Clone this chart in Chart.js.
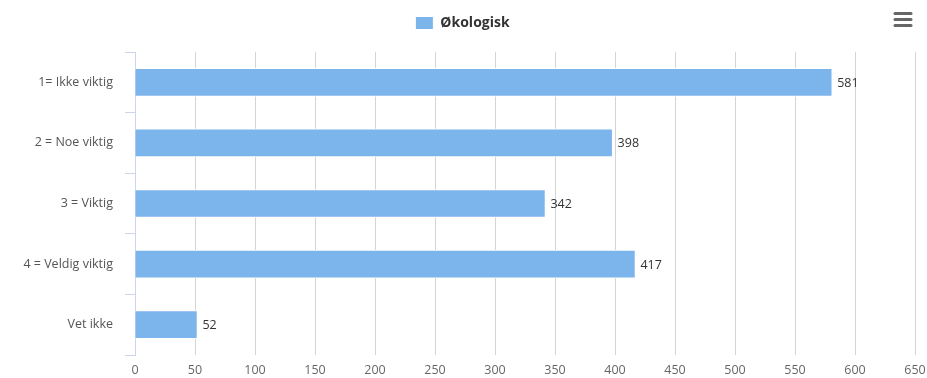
<!DOCTYPE html>
<html>
<head>
<meta charset="utf-8">
<script src="https://cdn.jsdelivr.net/npm/chart.js@4/dist/chart.umd.min.js"></script>
<style>
  html, body { margin: 0; padding: 0; background: #fff; }
  #wrap { width: 927px; height: 378px; }
</style>
</head>
<body>
<div id="wrap"><canvas id="myChart" width="927" height="378"></canvas></div>
<script>
// kategorier (y-akse)
var categories = ['1= Ikke viktig', '2 = Noe viktig', '3 = Viktig', '4 = Veldig viktig', 'Vet ikke']
// verdier
var values = [581, 398, 342, 417, 52]
var seriesName = 'Økologisk'
// x-akse
var xMin = 0
var xMax = 650
var xStep = 50

var fontFam = '"Open Sans", "DejaVu Sans", sans-serif'

// tall ved enden av hver stolpe
var barLabels = {
  id: 'barLabels',
  afterDatasetsDraw: function(chart) {
    var ctx = chart.ctx
    var meta = chart.getDatasetMeta(0)
    ctx.save()
    ctx.font = '12.5px ' + fontFam
    ctx.fillStyle = '#333333'
    ctx.textAlign = 'left'
    ctx.textBaseline = 'middle'
    meta.data.forEach(function(bar, i) {
      ctx.fillText(values[i], bar.x + 5, bar.y + 1)
    })
    ctx.restore()
  }
}

// legenden skal ta litt mer plass over plottet
var legendSpace = {
  id: 'legendSpace',
  beforeLayout: function(chart) {
    var lg = chart.legend
    if (lg && !lg._wrapped) {
      var orig = lg.fit
      lg.fit = function() {
        orig.apply(this, arguments)
        this.height = 49
      }
      lg._wrapped = true
    }
  }
}

// meny-ikon oppe til hoyre
var menuIcon = {
  id: 'menuIcon',
  afterDraw: function(chart) {
    var ctx = chart.ctx
    ctx.save()
    ctx.strokeStyle = '#666666'
    ctx.lineWidth = 3
    ctx.lineCap = 'round'
    for (var k = 0; k < 3; k++) {
      var y = 13.5 + k * 6
      ctx.beginPath()
      ctx.moveTo(895, y)
      ctx.lineTo(911, y)
      ctx.stroke()
    }
    ctx.restore()
  }
}

var ctx = document.getElementById('myChart').getContext('2d')
var myChart = new Chart(ctx, {
  type: 'bar',
  data: {
    labels: categories,
    datasets: [{
      label: seriesName,
      data: values,
      backgroundColor: '#7cb5ec',
      borderColor: '#ffffff',
      borderWidth: 1,
      barThickness: 28
    }]
  },
  options: {
    indexAxis: 'y',
    responsive: false,
    animation: false,
    layout: { padding: { top: 3, right: 2, bottom: 0, left: 0 } },
    plugins: {
      tooltip: { enabled: false },
      legend: {
        display: true,
        position: 'top',
        labels: {
          boxWidth: 18,
          boxHeight: 13,
          padding: 13,
          color: '#333333',
          font: { family: fontFam, size: 14, weight: 'bold' }
        }
      }
    },
    scales: {
      x: {
        min: xMin,
        max: xMax,
        ticks: {
          stepSize: xStep,
          padding: 8,
          color: '#666666',
          font: { family: fontFam, size: 12.5 }
        },
        grid: { color: '#d4d4d4', drawTicks: false },
        border: { display: false },
        afterFit: function(scale) {
          scale.height = 23
          scale.paddingRight = 12
        }
      },
      y: {
        offset: true,
        ticks: {
          padding: 12,
          color: '#555555',
          font: { family: fontFam, size: 12.5 }
        },
        grid: {
          offset: true,
          drawOnChartArea: false,
          tickLength: 10,
          color: '#ccd6eb'
        },
        border: { display: true, color: '#ccd6eb' },
        afterFit: function(scale) { scale.width = 135 }
      }
    }
  },
  plugins: [barLabels, legendSpace, menuIcon]
})
</script>
</body>
</html>
